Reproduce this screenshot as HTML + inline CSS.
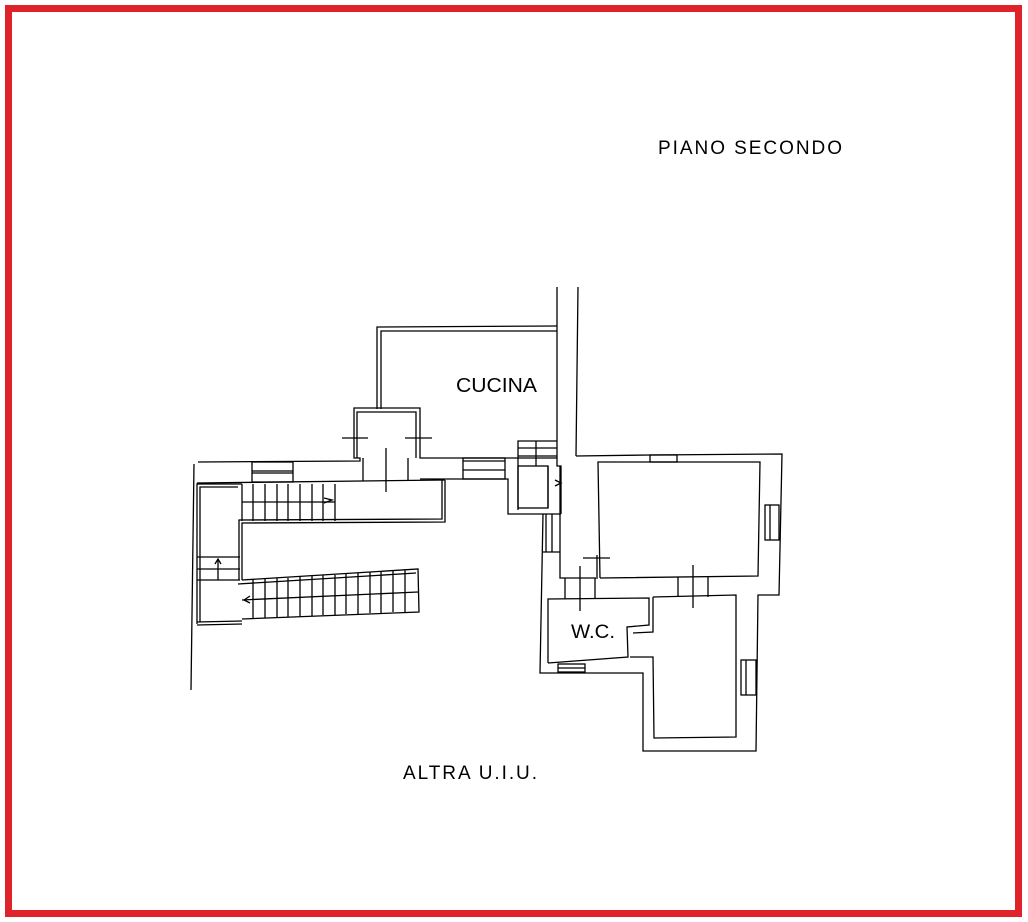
<!DOCTYPE html>
<html><head><meta charset="utf-8"><style>
html,body{margin:0;padding:0;background:#fff;}
svg{display:block}
text{font-family:"Liberation Sans",sans-serif;fill:#000;}
</style></head><body>
<svg width="1028" height="922" viewBox="0 0 1028 922" xmlns="http://www.w3.org/2000/svg">
<rect x="0" y="0" width="1028" height="922" fill="#fff"/>
<rect x="8.5" y="8.5" width="1010" height="905" fill="none" stroke="#e0232b" stroke-width="7"/>
<g fill="none" stroke="#000" stroke-width="1.3">
<line x1="194" y1="464" x2="191" y2="690"/>
<polyline points="198,462 360,461 360,458 354,458 354,408 420,408 420,458 557,458"/>
<polyline points="357,458 357,412 416,412 416,458"/>
<polyline points="377,409 377,327 557,326"/>
<polyline points="381,409 381,331 557,331"/>
<line x1="557" y1="287" x2="557" y2="458"/>
<line x1="578" y1="287" x2="576" y2="456"/>
<line x1="342" y1="438" x2="368" y2="438"/>
<line x1="405" y1="438" x2="432" y2="438"/>
<line x1="386" y1="448" x2="386" y2="492"/>
<polyline points="363,458 363,481"/><polyline points="408,458 408,481"/>
<rect x="252" y="462" width="41" height="20"/>
<line x1="252" y1="471" x2="293" y2="471"/><line x1="252" y1="473" x2="293" y2="473"/>
<rect x="463" y="458" width="42" height="21"/>
<line x1="463" y1="461" x2="505" y2="461"/><line x1="463" y1="470" x2="505" y2="470"/>
<line x1="197" y1="483" x2="445" y2="480"/>
<polyline points="420,479 508,479 508,514 561,514"/>
<polyline points="197,624 197,484 242,484"/>
<polyline points="200,622 200,487 238,487"/>
<polyline points="445,480 445,522 242,523 242,580"/>
<polyline points="442,480 442,519 239,520 239,580"/>
<line x1="242" y1="502" x2="335" y2="502"/>
<line x1="242" y1="484" x2="242" y2="521"/>
<line x1="253" y1="484" x2="253" y2="521"/><line x1="265" y1="484" x2="265" y2="521"/>
<line x1="277" y1="484" x2="277" y2="521"/><line x1="288" y1="484" x2="288" y2="521"/>
<line x1="300" y1="484" x2="300" y2="521"/><line x1="312" y1="484" x2="312" y2="521"/>
<line x1="323" y1="484" x2="323" y2="521"/><line x1="335" y1="484" x2="335" y2="521"/>
<polyline points="324,498 332,500 324,503"/>
<line x1="197" y1="557" x2="240" y2="557"/><line x1="197" y1="569" x2="240" y2="569"/><line x1="197" y1="580" x2="240" y2="580"/>
<line x1="218" y1="559" x2="218" y2="580"/><polyline points="215,564 218,559 221,564"/>
<polyline points="242,580 418,569 419,612 242,619"/>
<polyline points="238,584 416,573"/>
<line x1="242" y1="600" x2="418" y2="592"/>
<line x1="253" y1="580" x2="253" y2="618"/><line x1="265" y1="579" x2="265" y2="618"/>
<line x1="277" y1="578" x2="277" y2="617"/><line x1="288" y1="578" x2="288" y2="617"/>
<line x1="300" y1="577" x2="300" y2="616"/><line x1="312" y1="576" x2="312" y2="616"/>
<line x1="323" y1="575" x2="323" y2="615"/><line x1="335" y1="575" x2="335" y2="615"/>
<line x1="346" y1="574" x2="346" y2="614"/><line x1="358" y1="573" x2="358" y2="614"/>
<line x1="370" y1="572" x2="370" y2="613"/><line x1="381" y1="571" x2="381" y2="613"/>
<line x1="393" y1="571" x2="393" y2="612"/><line x1="405" y1="570" x2="405" y2="612"/>
<polyline points="250,596 244,600 250,603"/>
<line x1="197" y1="622" x2="242" y2="621"/><line x1="197" y1="625" x2="242" y2="624"/>
<polyline points="518,510 518,441 557,441"/>
<line x1="518" y1="448" x2="557" y2="448"/><line x1="518" y1="456" x2="557" y2="456"/>
<line x1="536" y1="441" x2="536" y2="466"/>
<rect x="518" y="466" width="30" height="42"/>
<polyline points="557,458 557,466 561,466 561,514"/>
<line x1="548" y1="466" x2="548" y2="508"/>
<polyline points="555,480 561,483 555,486"/>
<polyline points="576,456 650,455 782,454 779,595 758,595 756,751 643,751 643,673 540,673 543,514"/>
<polyline points="600,578 598,462 760,462 758,576 600,578"/>
<polyline points="560,466 560,578 598,578"/>
<line x1="546" y1="514" x2="546" y2="552"/><line x1="552" y1="514" x2="552" y2="552"/>
<line x1="543" y1="552" x2="560" y2="552"/>
<rect x="650" y="455" width="27" height="7"/>
<rect x="765" y="505" width="14" height="35"/>
<line x1="770" y1="505" x2="770" y2="540"/>
<line x1="565" y1="578" x2="565" y2="599"/><line x1="595" y1="578" x2="595" y2="599"/>
<line x1="580" y1="566" x2="580" y2="611"/>
<line x1="583" y1="558" x2="610" y2="558"/>
<line x1="597" y1="555" x2="597" y2="577"/>
<line x1="678" y1="577" x2="678" y2="597"/><line x1="708" y1="577" x2="708" y2="597"/>
<line x1="693" y1="565" x2="693" y2="608"/>
<polyline points="548,663 548,599 649,598 649,625 627,627 628,657 548,663"/>
<polyline points="653,597 736,595 736,737 654,738 653,657 630,657"/>
<polyline points="653,597 653,632 633,633"/>
<rect x="741" y="660" width="15" height="35"/>
<line x1="746" y1="660" x2="746" y2="695"/>
<rect x="558" y="664" width="27" height="8"/>
<line x1="558" y1="668" x2="585" y2="668"/>
</g>
<text x="658" y="154" font-size="19" textLength="184" lengthAdjust="spacing">PIANO  SECONDO</text>
<text x="456" y="392" font-size="20" textLength="81" lengthAdjust="spacingAndGlyphs">CUCINA</text>
<text x="571" y="638" font-size="19" textLength="44" lengthAdjust="spacingAndGlyphs">W.C.</text>
<text x="403" y="779" font-size="19" textLength="134" lengthAdjust="spacing">ALTRA U.I.U.</text>
</svg>
</body></html>
